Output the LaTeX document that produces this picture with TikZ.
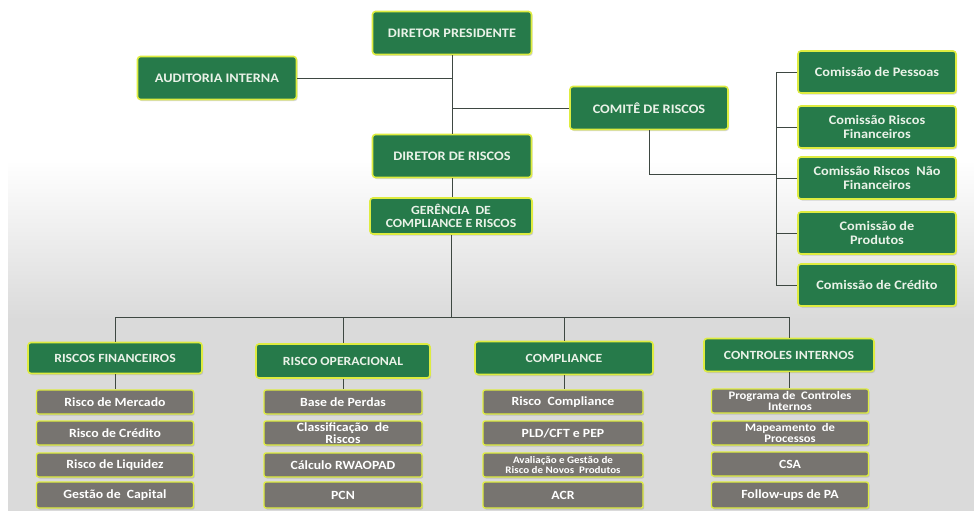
\documentclass[tikz,border=0pt]{standalone}
\usepackage{fontspec}
\setmainfont{Carlito}[FakeStretch=1.1]
\usepackage{tikz}
\usetikzlibrary{positioning, shadows}
\definecolor{boxgreen}{RGB}{38, 122, 74}
\definecolor{rimyellow}{RGB}{222, 236, 64}
\definecolor{boxgray}{RGB}{119, 116, 112}
\definecolor{paletext}{RGB}{234, 242, 232}
\definecolor{bggray}{RGB}{218, 218, 218}
\definecolor{linegray}{RGB}{62, 72, 66}

\begin{document}
\begin{tikzpicture}[x=1pt, y=-1pt,
  gbox/.style={draw=rimyellow, line width=1.6pt, fill=boxgreen, rounded corners=3pt,
    text=paletext, align=center, inner sep=0pt, minimum width=159pt, minimum height=43pt,
    font=\bfseries\fontsize{13}{13.5}\selectfont,
    drop shadow={shadow xshift=1.2pt, shadow yshift=-1.5pt, opacity=0.3}},
  hbox/.style={gbox, font=\bfseries\fontsize{12.5}{13}\selectfont, minimum width=174pt, minimum height=32pt},
  sbox/.style={gbox, fill=boxgray, line width=1.4pt, rounded corners=2pt, text=white,
    font=\bfseries\fontsize{12.5}{12}\selectfont, minimum width=157pt, minimum height=24pt},
  twoline/.style={font=\bfseries\fontsize{11.5}{11.5}\selectfont},
  link/.style={draw=linegray, line width=0.9pt}]
  \useasboundingbox (0,0) rectangle (974,511);
  \fill[white] (0,0) rectangle (974,511);
  \shade[top color=white, bottom color=bggray] (8,160) rectangle (974,320);
  \fill[bggray] (8,320) rectangle (974,511);

  % top of the chart
  \node[gbox] (pres) at (452,33) {DIRETOR PRESIDENTE};
  \node[gbox] (aud) at (217,78) {AUDITORIA INTERNA};
  \node[gbox, minimum width=158pt] (comite) at (649,108) {COMITÊ DE RISCOS};
  \node[gbox] (dirr) at (452,156) {DIRETOR DE RISCOS};
  \node[gbox, minimum width=162pt, minimum height=36pt, font=\bfseries\fontsize{12.5}{12.5}\selectfont] (ger) at (451,216) {GERÊNCIA\ \ DE\\COMPLIANCE E RISCOS};

  % comissoes
  \node[gbox, minimum width=158pt, minimum height=42pt] (cpes) at (877,72) {Comissão de Pessoas};
  \node[gbox, minimum width=158pt, minimum height=42pt] (cfin) at (877,127) {Comissão Riscos\\Financeiros};
  \node[gbox, minimum width=158pt, minimum height=42pt] (cnf) at (877,178) {Comissão Riscos\ \ Não\\Financeiros};
  \node[gbox, minimum width=158pt, minimum height=42pt] (cprod) at (877,233) {Comissão de\\Produtos};
  \node[gbox, minimum width=158pt, minimum height=42pt] (ccred) at (877,285) {Comissão de Crédito};

  \draw[link] (pres.south) -- (dirr.north);
  \draw[link] (aud.east) -- (aud.east -| pres.south);
  \draw[link] (comite.west) -- (comite.west -| pres.south);
  \draw[link] (dirr.south) -- (dirr.south |- ger.north);
  \coordinate (cbus) at (776,174);
  \draw[link] (comite.south) |- (cbus);
  \draw[link] (cpes.west) -- (cpes.west -| cbus) -- (ccred.west -| cbus) -- (ccred.west);
  \foreach \n in {cfin, cnf, cprod}
    \draw[link] (\n.west) -- (\n.west -| cbus);

  % areas
  \node[hbox, minimum height=31pt] (rfin) at (115,358) {RISCOS FINANCEIROS};
  \node[hbox, minimum height=34pt] (rop) at (343,361) {RISCO OPERACIONAL};
  \node[hbox, minimum width=178pt, minimum height=33pt] (compl) at (564,358) {COMPLIANCE};
  \node[hbox, minimum width=170pt, minimum height=33pt] (ctrl) at (789,355) {CONTROLES INTERNOS};

  \coordinate (hbar) at (453,317);
  \draw[link] (ger.south) -- (ger.south |- hbar);
  \draw[link] (rfin.north |- hbar) -- (ctrl.north |- hbar);
  \foreach \n in {rfin, rop, compl, ctrl}
    \draw[link] (\n.north |- hbar) -- (\n.north);

  % riscos financeiros
  \node[sbox] (rfa) at (115,402) {Risco de Mercado};
  \node[sbox] (rfb) at (115,433) {Risco de Crédito};
  \node[sbox] (rfc) at (115,465) {Risco de Liquidez};
  \node[sbox, minimum height=26pt] (rfd) at (115,495) {Gestão de\ \ Capital};

  % risco operacional
  \node[sbox, minimum width=158pt] (ropa) at (343,402) {Base de Perdas};
  \node[sbox, minimum width=158pt] (ropb) at (343,433) {Classificação\ \ de\\Riscos};
  \node[sbox, minimum width=158pt] (ropc) at (343,465) {Cálculo RWAOPAD};
  \node[sbox, minimum width=158pt, minimum height=26pt] (ropd) at (343,495) {PCN};

  % compliance
  \node[sbox, minimum width=160pt] (cpa) at (563,402) {Risco\ \ Compliance};
  \node[sbox, minimum width=160pt] (cpb) at (563,433) {PLD/CFT e PEP};
  \node[sbox, minimum width=160pt, font=\bfseries\fontsize{10}{10}\selectfont] (cpc) at (563,465) {Avaliação e Gestão de\\Risco de Novos\ \ Produtos};
  \node[sbox, minimum width=160pt, minimum height=26pt] (cpd) at (563,495) {ACR};

  % controles internos
  \node[sbox, twoline] (cia) at (790,401) {Programa de\ \ Controles\\Internos};
  \node[sbox, twoline] (cib) at (790,433) {Mapeamento\ \ de\\Processos};
  \node[sbox] (cic) at (790,464) {CSA};
  \node[sbox, minimum height=26pt] (cid) at (790,495) {Follow-ups de PA};

  \draw[link] (rfin.south) -- (rfin.south |- rfa.north);
  \draw[link] (rop.south) -- (rop.south |- ropa.north);
  \draw[link] (compl.south) -- (compl.south |- cpa.north);
  \draw[link] (ctrl.south) -- (ctrl.south |- cia.north);
\end{tikzpicture}
\end{document}
